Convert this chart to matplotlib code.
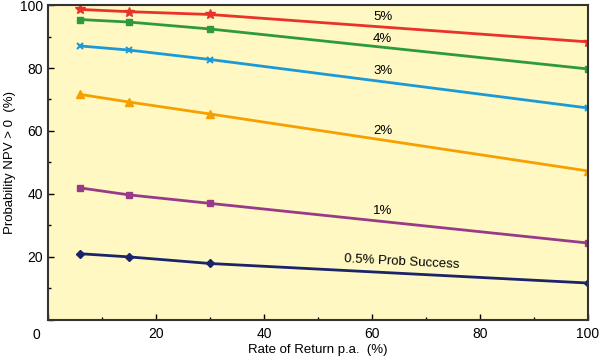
import numpy as np
import matplotlib
matplotlib.use('Agg')
import matplotlib.pyplot as plt
from matplotlib.ticker import MultipleLocator

plt.rcParams['font.family'] = ['Liberation Sans', 'DejaVu Sans']

# rate of return p.a. (%)
rates = [6, 15, 30, 100]

# probability NPV > 0 (%) for each probability of success
p5 = [98.6, 97.9, 97.0, 88.3]
p4 = [95.4, 94.6, 92.4, 79.7]
p3 = [87.0, 85.7, 82.7, 67.3]
p2 = [71.6, 69.2, 65.4, 47.3]
p1 = [41.9, 39.7, 37.0, 24.4]
p05 = [21.0, 20.0, 17.9, 11.7]

series = [
    ("5%", p5, '#e8322a', '*', 7),
    ("4%", p4, '#2e9a3c', 's', 5),
    ("3%", p3, '#1c9ad8', 'x', 5),
    ("2%", p2, '#f5a000', '^', 6),
    ("1%", p1, '#993a88', 's', 5),
    ("0.5% Prob Success", p05, '#1a2468', 'D', 4.5),
]

fig = plt.figure(figsize=(6, 3.61), dpi=100)
ax = fig.add_axes([0.08, 0.114, 0.9, 0.872])
ax.set_facecolor('#fff8c2')

for name, vals, col, mk, ms in series:
    ax.plot(rates, vals, color=col, lw=2, marker=mk, ms=ms, mew=1.5 if mk == 'x' else 1)

# labels sitting on the lines
ax.text(62, 96.2, "5%", fontsize=9.5, ha='center', va='center')
ax.text(62, 89.2, "4%", fontsize=9.5, ha='center', va='center')
ax.text(62, 79.0, "3%", fontsize=9.5, ha='center', va='center')
ax.text(62, 60.0, "2%", fontsize=9.5, ha='center', va='center')
ax.text(62, 34.6, "1%", fontsize=9.5, ha='center', va='center')
ax.text(65.5, 18.3, "0.5% Prob Success", fontsize=9.5, ha='center', va='center', rotation=-3)

ax.set_xlim(0, 100)
ax.set_ylim(0, 100)
ax.xaxis.set_major_locator(MultipleLocator(20))
ax.yaxis.set_major_locator(MultipleLocator(20))
ax.xaxis.set_minor_locator(MultipleLocator(10))
ax.yaxis.set_minor_locator(MultipleLocator(10))
ax.tick_params(direction='in', which='major', length=4, width=1, labelsize=10)
ax.tick_params(axis='y', which='major', pad=3.5)
ax.tick_params(axis='x', which='major', pad=5)
ax.tick_params(direction='in', which='minor', length=2, width=1)
for s in ax.spines.values():
    s.set_linewidth(1.5)
    s.set_color('#333333')

# single shared "0" sitting off the corner
ax.set_yticks([0, 20, 40, 60, 80, 100], ['', '20', '40', '60', '80', '100'])
ax.set_xticks([0, 20, 40, 60, 80, 100], ['', '20', '40', '60', '80', '100'])
ax.annotate('0', xy=(0, 0), xytext=(-8, -8), textcoords='offset pixels',
            ha='right', va='top', fontsize=10, annotation_clip=False)

ax.set_xlabel("Rate of Return p.a.  (%)", fontsize=9.5, labelpad=2)
ax.set_ylabel("Probability NPV > 0  (%)", fontsize=9.5, labelpad=3)

fig.savefig('out.png', dpi=100)
